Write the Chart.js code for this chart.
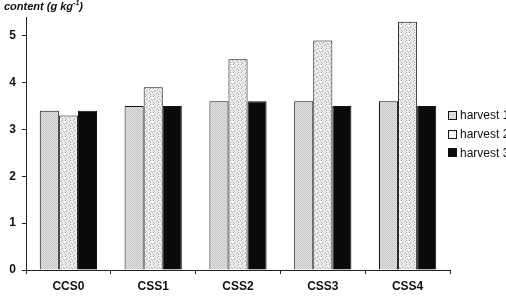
<!DOCTYPE html>
<html>
<head>
<meta charset="utf-8">
<script src="https://cdn.jsdelivr.net/npm/chart.js@4.4.1/dist/chart.umd.min.js"></script>
<style>
  html, body { margin:0; padding:0; background:#fff; width:506px; height:302px; overflow:hidden; }
  #wrap { position:relative; width:506px; height:302px; }
  #title { position:absolute; left:4px; top:-1px; font:italic bold 11px "Liberation Sans", Arial, sans-serif; color:#111; white-space:nowrap; }
  #title sup { font-size:7px; }
  #legend { position:absolute; left:448px; top:106px; font:12px "Liberation Sans", Arial, sans-serif; color:#111; white-space:nowrap; }
  .item { height:18.7px; display:flex; align-items:center; }
  .sw { display:inline-block; width:7px; height:7px; border:1px solid #111; margin-right:3px; }
</style>
</head>
<body>
<div id="wrap">
  <canvas id="c" width="506" height="302"></canvas>
  <div id="title">content (g kg<sup>-1</sup>)</div>
  <div id="legend"></div>
</div>
<script>
const categories = ["CCS0", "CSS1", "CSS2", "CSS3", "CSS4"];
const seriesLabels = ["harvest 1", "harvest 2", "harvest 3"];
const harvest1 = [3.4, 3.5, 3.6, 3.6, 3.6];
const harvest2 = [3.3, 3.9, 4.5, 4.9, 5.3];
const harvest3 = [3.4, 3.5, 3.6, 3.5, 3.5];
const yTicks = [0, 1, 2, 3, 4, 5];

function makePattern(base, dot, cells, size) {
  const cv = document.createElement('canvas');
  cv.width = size; cv.height = size;
  const g = cv.getContext('2d');
  g.fillStyle = base; g.fillRect(0, 0, size, size);
  g.fillStyle = dot;
  cells.forEach(([x, y]) => g.fillRect(x, y, 1, 1));
  return g.createPattern(cv, 'repeat');
}
const ctx = document.getElementById('c').getContext('2d');
const pat1 = makePattern('#e4e4e4', '#c4c4c4', [[0,0],[1,1]], 2);
const pat2 = makePattern('#eeeeee', '#a8a8a8',
  [[1,0],[5,1],[3,2],[7,3],[0,4],[4,5],[6,6],[2,7],[6,0],[2,3],[5,4],[1,6]], 8);
const fills = [pat1, pat2, '#0a0a0a'];

const legend = document.getElementById('legend');
seriesLabels.forEach((lab, i) => {
  const d = document.createElement('div'); d.className = 'item';
  const s = document.createElement('span'); s.className = 'sw';
  s.style.background = i === 2 ? '#0a0a0a' : (i === 0 ? '#dcdcdc' : '#f2f2f2');
  d.appendChild(s); d.appendChild(document.createTextNode(lab));
  legend.appendChild(d);
});

const font = { family: '"Liberation Sans", Arial, sans-serif', size: 12, weight: 'bold' };
new Chart(ctx, {
  type: 'bar',
  data: {
    labels: categories,
    datasets: [harvest1, harvest2, harvest3].map((d, i) => ({
      label: seriesLabels[i], data: d,
      backgroundColor: fills[i], borderColor: '#111', borderWidth: 1,
      barPercentage: 1, categoryPercentage: 0.675
    }))
  },
  options: {
    responsive: false, animation: false,
    layout: { padding: { top: 17, right: 56, left: 0, bottom: 0 } },
    plugins: { legend: { display: false }, tooltip: { enabled: false } },
    scales: {
      x: {
        grid: { display: true, drawOnChartArea: false, drawTicks: true, tickLength: 4, color: '#222', offset: true },
        border: { display: true, color: '#222', width: 1 },
        ticks: { color: '#111', font: font, padding: 5, maxRotation: 0 },
        afterFit: s => { s.height = 32; }
      },
      y: {
        min: 0, max: 5.4,
        afterBuildTicks: s => { s.ticks = yTicks.map(v => ({ value: v })); },
        grid: { display: true, drawOnChartArea: false, drawTicks: true, tickLength: 4, color: '#222' },
        border: { display: true, color: '#222', width: 1 },
        ticks: { color: '#111', font: font, padding: 6 },
        afterFit: s => { s.width = 26; }
      }
    }
  }
});
</script>
</body>
</html>
